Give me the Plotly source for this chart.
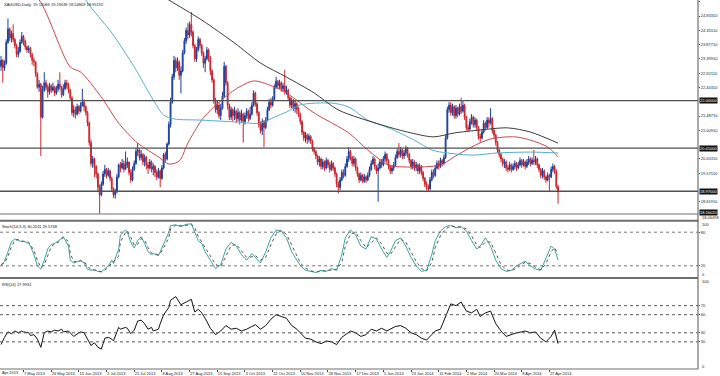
import datetime as dt
import plotly.graph_objects as go

# ---------------- data ----------------
title_text = "XAGUSD,Daily  19.12066 19.19039 18.54809 18.95192"
first_open = 23.15
close = [
 23.35, 23.10, 23.25, 23.95, 24.40, 24.10, 24.25, 24.05, 23.85, 23.55,
 23.65, 23.95, 24.15, 24.00, 23.80, 23.70, 23.75, 23.55, 23.35, 23.30,
 22.90, 22.45, 22.55, 21.45, 22.35, 22.60, 22.45, 22.30, 22.50, 22.35,
 22.45, 22.25, 22.40, 22.55, 22.45, 22.20, 22.40, 22.60, 22.50, 22.35,
 22.10, 21.60, 21.70, 21.55, 21.80, 21.65, 21.85, 21.95, 21.80, 21.60,
 21.25, 20.60, 19.90, 20.05, 19.80, 19.55, 19.10, 18.85, 19.20, 19.55,
 19.70, 19.50, 19.65, 19.40, 19.05, 18.85, 18.95, 19.45, 19.85, 19.75,
 19.90, 19.70, 19.85, 19.95, 19.60, 19.35, 19.70, 19.90, 20.30, 20.35,
 20.10, 20.20, 19.95, 20.10, 19.85, 19.75, 19.95, 19.70, 19.80, 19.60,
 19.45, 19.65, 19.40, 19.75, 20.20, 20.05, 20.55, 21.20, 21.95, 22.80,
 23.35, 23.10, 23.30, 22.85, 23.00, 23.60, 24.00, 24.35, 24.20, 24.55,
 24.30, 23.85, 23.40, 23.70, 24.05, 23.85, 23.60, 23.25, 23.40, 23.70,
 23.45, 23.00, 22.70, 22.00, 21.70, 21.85, 21.50, 21.75, 22.15, 23.15,
 22.60, 21.85, 21.45, 21.70, 21.50, 21.65, 21.40, 21.60, 21.35, 21.55,
 21.30, 21.50, 21.65, 21.40, 21.55, 21.85, 22.25, 21.90, 21.60, 21.20,
 21.00, 21.30, 21.10, 21.35, 21.70, 21.95, 21.85, 22.05, 22.45, 22.65,
 22.50, 22.60, 22.40, 22.50, 22.30, 22.35, 22.10, 21.85, 22.00, 21.75,
 21.90, 21.70, 21.55, 21.30, 20.95, 20.75, 20.85, 20.70, 20.80, 20.65,
 20.40, 20.30, 20.15, 19.95, 20.05, 19.80, 19.95, 19.75, 20.00, 19.85,
 19.70, 19.90, 19.75, 19.55, 19.20, 19.10, 19.35, 19.60, 19.50, 19.80,
 20.05, 20.30, 20.10, 19.90, 20.05, 19.75, 19.55, 19.35, 19.50, 19.30,
 19.45, 19.35, 19.50, 19.70, 19.90, 20.05, 19.80, 19.65, 19.75, 19.95,
 19.85, 20.05, 20.20, 20.00, 19.80, 19.65, 19.75, 19.85, 20.10, 20.30,
 20.20, 20.35, 20.15, 20.25, 20.40, 20.20, 20.00, 19.80, 19.95, 19.75,
 19.85, 19.65, 19.80, 19.60, 19.40, 19.20, 19.10, 19.05, 19.35, 19.60,
 19.50, 19.75, 19.90, 19.80, 20.00, 19.90, 20.10, 20.75, 21.70, 21.85,
 21.60, 21.80, 21.50, 21.75, 21.55, 21.80, 21.65, 21.85, 21.45, 21.10,
 21.05, 21.30, 21.45, 21.20, 21.35, 21.10, 20.80, 20.75, 20.95, 21.25,
 21.10, 21.35, 21.25, 21.40, 21.00, 20.85, 20.60, 20.35, 20.20, 20.05,
 19.90, 19.95, 19.75, 19.70, 19.85, 19.70, 19.80, 19.90, 19.75, 19.85,
 20.00, 19.85, 19.95, 19.80, 19.95, 20.05, 19.90, 20.00, 19.95, 20.05,
 19.85, 19.70, 19.50, 19.65, 19.45, 19.35, 19.50, 19.45, 19.70, 19.80,
 19.65, 19.12, 18.95]
high = [
 23.5, 23.4, 23.35, 24.05, 24.75, 24.45, 24.35, 24.55, 24.1, 23.9,
 23.8, 24.05, 24.3, 24.2, 24.05, 23.85, 23.85, 23.8, 23.6, 23.45,
 23.3, 22.95, 22.7, 22.6, 22.5, 22.95, 22.7, 22.55, 22.6, 22.55,
 22.6, 22.5, 22.5, 22.7, 22.95, 22.5, 22.55, 22.7, 22.7, 22.6,
 22.4, 22.15, 21.85, 21.8, 21.9, 21.85, 21.95, 22.4, 22.05, 21.85,
 21.65, 21.3, 20.7, 20.15, 20.1, 19.85, 19.6, 19.2, 19.3, 19.65,
 19.85, 19.75, 19.75, 19.7, 19.45, 19.1, 19.05, 19.55, 19.9, 19.95,
 20.05, 20.0, 20.3, 20.1, 19.95, 19.7, 19.8, 20.0, 20.4, 20.58,
 20.4, 20.35, 20.25, 20.2, 20.15, 19.95, 20.05, 20.0, 19.9, 19.85,
 19.7, 19.75, 19.7, 19.85, 20.25, 20.3, 20.6, 21.3, 22.1, 22.9,
 23.5, 23.45, 23.45, 23.35, 23.15, 23.7, 24.1, 24.45, 24.6, 24.65,
 24.97, 24.35, 23.9, 23.8, 24.15, 24.1, 23.9, 23.65, 23.5, 23.8,
 23.75, 23.5, 23.05, 22.75, 22.1, 22.0, 21.95, 21.9, 22.3, 23.3,
 23.2, 22.65, 21.9, 21.8, 21.75, 21.8, 21.7, 21.75, 21.65, 21.7,
 21.6, 21.6, 21.75, 21.7, 21.8, 21.95, 22.35, 22.3, 21.95, 21.65,
 21.3, 21.4, 21.35, 21.45, 21.8, 22.05, 22.1, 22.15, 22.55, 22.8,
 22.7, 22.7, 22.65, 22.6, 23.03, 22.5, 22.4, 22.15, 22.1, 22.05,
 22.0, 21.95, 21.8, 21.6, 21.35, 21.0, 20.95, 20.9, 20.9, 20.85,
 20.7, 20.45, 20.35, 20.2, 20.15, 20.1, 20.05, 20.0, 20.1, 20.05,
 19.95, 20.0, 19.95, 19.8, 19.6, 19.3, 19.45, 19.7, 19.7, 19.9,
 20.15, 20.45, 20.35, 20.15, 20.15, 20.1, 19.8, 19.6, 19.6, 19.55,
 19.55, 19.5, 19.6, 19.8, 20.0, 20.15, 20.1, 19.85, 19.9, 20.05,
 20.05, 20.15, 20.3, 20.25, 20.05, 19.85, 19.85, 19.95, 20.2, 20.4,
 20.58, 20.45, 20.4, 20.35, 20.5, 20.45, 20.25, 20.05, 20.05, 20.0,
 19.95, 19.9, 19.9, 19.85, 19.65, 19.45, 19.3, 19.2, 19.45, 19.7,
 19.7, 19.85, 20.0, 20.0, 20.1, 20.05, 20.2, 20.85, 21.8, 21.95,
 21.95, 21.9, 21.85, 21.85, 21.8, 21.9, 22.1, 22.0, 21.9, 21.5,
 21.2, 21.4, 21.55, 21.5, 21.45, 21.4, 21.15, 20.9, 21.05, 21.35,
 21.3, 21.45, 21.45, 21.75, 21.45, 21.1, 20.9, 20.65, 20.4, 20.25,
 20.1, 20.05, 20.0, 19.85, 19.95, 19.9, 19.9, 20.0, 19.95, 19.95,
 20.1, 20.05, 20.05, 20.0, 20.05, 20.15, 20.1, 20.1, 20.35, 20.15,
 20.1, 19.9, 19.75, 19.75, 19.7, 19.5, 19.6, 19.55, 19.8, 19.9,
 19.85, 19.7, 19.19]
low = [
 23.0, 22.6, 23.0, 23.2, 23.9, 24.0, 23.95, 23.95, 23.75, 23.45,
 23.45, 23.6, 23.9, 23.85, 23.7, 23.6, 23.6, 23.45, 23.2, 23.15,
 22.8, 22.4, 22.3, 20.15, 21.4, 22.3, 22.35, 22.1, 22.2, 22.25,
 22.3, 22.15, 22.2, 22.3, 22.35, 22.1, 22.15, 22.35, 22.4, 22.25,
 22.0, 21.5, 21.45, 21.4, 21.5, 21.55, 21.6, 21.8, 21.65, 21.5,
 21.15, 20.5, 19.8, 19.75, 19.45, 19.4, 18.95, 18.22, 18.8, 19.15,
 19.45, 19.4, 19.45, 19.3, 18.95, 18.75, 18.72, 18.9, 19.4, 19.6,
 19.7, 19.6, 19.7, 19.75, 19.5, 19.25, 19.3, 19.65, 19.85, 20.15,
 20.0, 20.0, 19.85, 19.8, 19.7, 19.55, 19.7, 19.6, 19.5, 19.45,
 19.35, 19.4, 19.1, 19.35, 19.7, 19.95, 20.0, 20.5, 21.1, 21.9,
 22.7, 22.95, 23.0, 22.7, 22.25, 22.95, 23.55, 23.9, 24.05, 24.1,
 24.15, 23.75, 23.3, 23.3, 23.65, 23.75, 23.5, 23.1, 22.95, 23.35,
 23.3, 22.85, 22.6, 21.9, 21.6, 21.55, 21.4, 21.35, 21.7, 22.1,
 22.5, 21.7, 21.35, 21.35, 21.3, 21.35, 21.25, 21.3, 21.2, 21.3,
 20.6, 21.2, 21.4, 21.3, 21.35, 21.5, 21.8, 21.8, 21.5, 21.1,
 20.9, 20.85, 20.45, 21.05, 21.3, 21.65, 21.75, 21.8, 22.0, 22.4,
 22.4, 22.4, 22.3, 22.3, 22.2, 22.2, 22.0, 21.75, 21.75, 21.65,
 21.6, 21.55, 21.45, 21.2, 20.85, 20.65, 20.6, 20.55, 20.6, 20.55,
 20.3, 20.2, 20.05, 19.85, 19.8, 19.7, 19.7, 19.65, 19.7, 19.75,
 19.6, 19.65, 19.65, 19.45, 19.1, 18.9, 19.0, 19.3, 19.4, 19.45,
 19.75, 19.95, 20.0, 19.8, 19.8, 19.65, 19.45, 19.25, 19.3, 19.25,
 19.25, 19.25, 19.3, 19.45, 19.65, 19.85, 19.7, 19.55, 18.62, 19.7,
 19.75, 19.8, 19.95, 19.9, 19.7, 19.55, 19.55, 19.65, 19.8, 20.05,
 20.1, 20.1, 20.05, 20.05, 20.15, 20.1, 19.9, 19.7, 19.7, 19.65,
 19.65, 19.55, 19.55, 19.5, 19.3, 19.1, 19.0, 18.95, 19.0, 19.3,
 19.4, 19.45, 19.7, 19.7, 19.75, 19.8, 19.85, 20.05, 20.7, 21.6,
 21.5, 21.5, 21.4, 21.4, 21.45, 21.5, 21.55, 21.6, 21.35, 21.0,
 20.95, 21.0, 21.2, 21.1, 21.1, 21.0, 20.7, 20.6, 20.7, 20.9,
 21.0, 21.05, 21.1, 21.2, 20.9, 20.75, 20.5, 20.25, 20.1, 19.95,
 19.8, 19.75, 19.65, 19.6, 19.65, 19.6, 19.65, 19.7, 19.65, 19.7,
 19.8, 19.75, 19.8, 19.7, 19.75, 19.85, 19.8, 19.85, 19.85, 19.85,
 19.75, 19.6, 19.4, 19.4, 19.35, 19.25, 19.3, 18.95, 19.4, 19.6,
 19.55, 19.05, 18.55]

# moving averages (bar index, price)
ma_red_bar = [10, 22, 40, 46, 58, 68, 79, 91, 97, 103, 108, 116, 123, 135, 146, 158, 165,
              181, 201, 212, 224, 235, 254, 262, 272, 283, 297, 306, 316, 322]
ma_red_val = [25.9, 25.37, 23.13, 22.96, 22.12, 21.25, 20.58, 20.12, 19.88, 19.98, 20.58,
              21.35, 21.79, 22.36, 22.66, 22.46, 22.26, 21.59, 20.92, 20.35, 19.85, 19.78,
              19.85, 20.12, 20.45, 20.72, 20.79, 20.68, 20.45, 20.12]
ma_teal_bar = [40, 49, 64, 77, 87, 94, 100, 116, 135, 150, 158, 165, 173, 191, 201, 212,
               224, 239, 249, 258, 273, 287, 306, 322]
ma_teal_val = [26.5, 25.37, 24.27, 23.13, 22.12, 21.52, 21.39, 21.35, 21.29, 21.25, 21.45,
               21.62, 21.86, 21.92, 21.79, 21.35, 21.09, 20.68, 20.35, 20.25, 20.18, 20.25,
               20.28, 20.25]
ma_black_bar = [85, 97, 116, 135, 150, 165, 181, 195, 220, 235, 250, 262, 277, 293, 306, 322]
ma_black_val = [25.8, 25.37, 24.70, 23.93, 23.26, 22.79, 22.26, 21.69, 21.19, 20.95, 20.79,
                20.92, 21.02, 21.09, 20.95, 20.58]

level_lines = [22.0, 20.41, 18.97]
level_labels = ["22.00000", "20.41000", "18.97000"]

price_ticks = [25.3111, 24.8331, 24.3551, 23.8771, 23.3991, 22.9211, 22.4431,
               21.4871, 21.0091, 20.0531, 19.5751, 18.6191]

stoch_bar = [0, 2, 4, 6, 8, 10, 12, 13, 16, 17, 19, 21, 23, 25, 27, 29, 31, 33, 35, 36, 39,
             40, 42, 45, 46, 48, 50, 52, 54, 56, 58, 60, 62, 64, 65, 68, 69, 72, 73, 75, 77,
             79, 81, 83, 85, 87, 88, 91, 92, 94, 97, 98, 101, 104, 107, 110, 112, 114, 116,
             118, 121, 124, 127, 130, 133, 136, 139, 142, 145, 147, 150, 153, 156, 159, 162,
             165, 168, 171, 173, 176, 179, 182, 185, 188, 191, 194, 197, 199, 202, 205, 208,
             211, 214, 217, 220, 223, 225, 228, 231, 234, 237, 240, 243, 246, 249, 251, 254,
             257, 260, 263, 266, 269, 272, 275, 277, 280, 283, 286, 289, 292, 295, 298, 301,
             303, 306, 309, 312, 315, 318, 320, 322]
stoch_val = [22, 28, 45, 63, 68, 66, 63, 64, 60, 55, 40, 20, 14, 30, 50, 58, 60, 64, 70, 72,
             55, 30, 25, 28, 30, 25, 14, 12, 13, 10, 9, 15, 20, 30, 24, 50, 75, 84, 80, 62,
             52, 65, 72, 60, 45, 40, 42, 38, 45, 60, 80, 92, 93, 90, 94, 95, 80, 65, 60, 45,
             30, 15, 22, 50, 62, 55, 40, 30, 42, 35, 25, 45, 70, 84, 82, 70, 45, 30, 20, 12,
             10, 8, 12, 10, 15, 12, 40, 70, 84, 75, 55, 50, 72, 68, 50, 35, 45, 65, 70, 55,
             35, 20, 10, 12, 40, 65, 82, 90, 92, 88, 90, 82, 65, 50, 55, 70, 55, 30, 15, 10,
             12, 20, 25, 28, 20, 14, 12, 35, 55, 50, 30]
rsi_bar = stoch_bar[:]
rsi_val = [27, 35, 41, 39, 42, 40, 42, 41, 40, 37, 38, 33, 24, 40, 42, 41, 43, 42, 44, 41,
           42, 40, 36, 40, 41, 40, 33, 26, 29, 24, 22, 34, 35, 33, 31, 46, 44, 46, 45, 39,
           43, 53, 54, 50, 44, 46, 42, 44, 50, 60, 68, 76, 80, 71, 74, 77, 63, 66, 62, 56,
           45, 38, 42, 48, 44, 45, 42, 44, 47, 49, 44, 48, 55, 60, 58, 56, 48, 44, 40, 34,
           33, 30, 28, 31, 30, 27, 35, 38, 42, 40, 36, 38, 44, 42, 45, 42, 44, 47, 48, 45,
           40, 38, 34, 32, 38, 42, 44, 58, 72, 70, 74, 64, 62, 66, 58, 62, 64, 50, 42, 36,
           38, 40, 41, 42, 40, 41, 34, 30, 36, 43, 28]
stoch_levels = [80, 20]
rsi_levels = [70, 60, 40, 30]

date_labels = ["18 Apr 2013", "7 May 2013", "26 May 2013", "13 Jun 2013", "2 Jul 2013",
               "21 Jul 2013", "8 Aug 2013", "27 Aug 2013", "15 Sep 2013", "3 Oct 2013",
               "22 Oct 2013", "10 Nov 2013", "28 Nov 2013", "17 Dec 2013", "5 Jan 2014",
               "23 Jan 2014", "11 Feb 2014", "2 Mar 2014", "20 Mar 2014", "8 Apr 2014",
               "27 Apr 2014"]
first_bar_date = dt.date(2013, 4, 22)

# ---------------- derived structure ----------------
n = len(close)
assert len(high) == n and len(low) == n
bars = list(range(n))
opens = [first_open] + close[:-1]
high = [max(h, o, c) for h, o, c in zip(high, opens, close)]
low = [min(l, o, c) for l, o, c in zip(low, opens, close)]

def bar_index(d):
    # bars exist Sun-Fri (no Saturday bars)
    step = 1 if d >= first_bar_date else -1
    cur, k = first_bar_date, 0
    while cur != d:
        cur += dt.timedelta(days=step)
        if cur.weekday() != 5:
            k += step
    return k

def parse(lbl):
    return dt.datetime.strptime(lbl, "%d %b %Y").date()

label_pos = [bar_index(parse(s)) for s in date_labels]
signal = [stoch_val[0]] + [(a + b) / 2 for a, b in zip(stoch_val[:-1], stoch_val[1:])]

# ---------------- figure ----------------
BLUE = "#1b3f9f"
RED = "#c9262e"
FONT = "Liberation Sans"
FS = 4
H = 369.0

def py(pix):
    return 1 - pix / H

fig = go.Figure()
fig.add_trace(go.Candlestick(
    x=bars, open=opens, high=high, low=low, close=close,
    increasing=dict(line=dict(color=BLUE, width=1), fillcolor=BLUE),
    decreasing=dict(line=dict(color=RED, width=1), fillcolor=RED),
    whiskerwidth=0, showlegend=False, hoverinfo="skip", xaxis="x", yaxis="y"))
for xs, ys, col in [(ma_red_bar, ma_red_val, "#c8474a"),
                    (ma_teal_bar, ma_teal_val, "#55b0c8"),
                    (ma_black_bar, ma_black_val, "#3c3c3c")]:
    fig.add_trace(go.Scatter(x=xs, y=ys, mode="lines", line=dict(color=col, width=1, shape="spline", smoothing=0.8),
                             showlegend=False, hoverinfo="skip", xaxis="x", yaxis="y"))

fig.add_trace(go.Scatter(x=stoch_bar, y=stoch_val, mode="lines",
                         line=dict(color="#3aa5a0", width=1), showlegend=False,
                         hoverinfo="skip", xaxis="x2", yaxis="y2"))
fig.add_trace(go.Scatter(x=stoch_bar, y=signal, mode="lines",
                         line=dict(color="#555555", width=1, dash="dot"), showlegend=False,
                         hoverinfo="skip", xaxis="x2", yaxis="y2"))
fig.add_trace(go.Scatter(x=rsi_bar, y=rsi_val, mode="lines",
                         line=dict(color="#111111", width=1), showlegend=False,
                         hoverinfo="skip", xaxis="x3", yaxis="y3"))

xr = [-0.6, 402.9]
tickfont = dict(family=FONT, size=FS, color="#222")
fig.update_layout(
    width=720, height=376, margin=dict(l=0, r=22, t=0, b=7, autoexpand=False),
    paper_bgcolor="white", plot_bgcolor="white",
    font=dict(family=FONT, size=FS, color="#222"),
    xaxis=dict(domain=[0, 1], range=xr, anchor="y", showticklabels=False, showgrid=False,
               zeroline=False, rangeslider=dict(visible=False), automargin=False),
    xaxis2=dict(domain=[0, 1], range=xr, anchor="y2", matches="x", showticklabels=False,
                showgrid=False, zeroline=False, automargin=False),
    xaxis3=dict(domain=[0, 1], range=xr, anchor="y3", matches="x", showgrid=False, zeroline=False,
                tickmode="array", tickvals=label_pos[1:], ticktext=date_labels[1:],
                ticks="outside", ticklen=2, tickcolor="#444", tickfont=tickfont,
                tickangle=0, ticklabelposition="outside right", automargin=False),
    yaxis=dict(domain=[py(214), 1], range=[18.208, 25.370], side="right", showgrid=False,
               zeroline=False, tickmode="array", tickvals=price_ticks,
               ticktext=[f"{v:.5f}" for v in price_ticks], ticks="outside", ticklen=1,
               tickcolor="#444", tickfont=tickfont, automargin=False),
    yaxis2=dict(domain=[py(277), py(221)], range=[0, 100], side="right", showgrid=False,
                zeroline=False, tickmode="array", tickvals=stoch_levels,
                ticktext=[str(v) for v in stoch_levels], ticks="outside", ticklen=1,
                tickcolor="#444", tickfont=tickfont, automargin=False),
    yaxis3=dict(domain=[0, py(278.5)], range=[0, 100], side="right", showgrid=False,
                zeroline=False, tickmode="array", tickvals=rsi_levels,
                ticktext=[str(v) for v in rsi_levels], ticks="outside", ticklen=1,
                tickcolor="#444", tickfont=tickfont, automargin=False),
)

shapes = []
for lv in level_lines:
    shapes.append(dict(type="line", xref="paper", yref="y", x0=0, x1=1, y0=lv, y1=lv,
                       line=dict(color="#505050", width=1.3)))
for lv in stoch_levels:
    shapes.append(dict(type="line", xref="paper", yref="y2", x0=0, x1=1, y0=lv, y1=lv,
                       line=dict(color="#777", width=1, dash="dot")))
for lv in rsi_levels:
    shapes.append(dict(type="line", xref="paper", yref="y3", x0=0, x1=1, y0=lv, y1=lv,
                       line=dict(color="#555", width=1, dash="dot")))
for pix, w in [(214, 1), (220.7, 2), (278, 2), (369, 1)]:
    shapes.append(dict(type="line", xref="paper", yref="paper", x0=0, x1=1, y0=py(pix), y1=py(pix),
                       line=dict(color="#6e6e6e", width=w)))
shapes.append(dict(type="line", xref="paper", yref="paper", x0=1, x1=1, y0=0, y1=1,
                   line=dict(color="#555", width=1)))
fig.update_layout(shapes=shapes)

ann = []
ann.append(dict(xref="paper", yref="paper", x=0.003, y=1, xanchor="left", yanchor="top",
                text=title_text, showarrow=False, font=dict(family=FONT, size=FS, color="#111")))
ann.append(dict(xref="paper", yref="paper", x=0.0, y=py(221.5), xanchor="left", yanchor="top",
                text="Stoch(14,3,3) 30.2011 29.5748", showarrow=False,
                font=dict(family=FONT, size=FS, color="#111")))
ann.append(dict(xref="paper", yref="paper", x=0.0, y=py(279.5), xanchor="left", yanchor="top",
                text="RSI(14) 27.9931", showarrow=False,
                font=dict(family=FONT, size=FS, color="#111")))
for lv, txt in zip(level_lines, level_labels):
    ann.append(dict(xref="paper", yref="y", x=1.0015, y=lv, xanchor="left", yanchor="middle",
                    text=txt, showarrow=False, bgcolor="#111", borderpad=0,
                    font=dict(family=FONT, size=FS, color="white")))
ann.append(dict(xref="paper", yref="paper", x=1.0015, y=py(212.5), xanchor="left", yanchor="middle",
                text="18.16020", showarrow=False, bgcolor="#111", borderpad=0,
                font=dict(family=FONT, size=FS, color="white")))
ann.append(dict(xref="paper", yref="paper", x=1.003, y=py(217.3), xanchor="left", yanchor="middle",
                text="18.06498", showarrow=False, font=dict(family=FONT, size=FS, color="#222")))
for txt, pix in [("100", 224), ("0", 274), ("100", 281.5), ("0", 366.5)]:
    ann.append(dict(xref="paper", yref="paper", x=1.003, y=py(pix), xanchor="left", yanchor="middle",
                    text=txt, showarrow=False, font=dict(family=FONT, size=FS, color="#222")))
# first date label is cut by the left edge in the reference
ann.append(dict(xref="paper", yref="paper", x=0.0, y=py(372.5), xanchor="left", yanchor="middle",
                text=date_labels[0].split(" ", 1)[1], showarrow=False,
                font=dict(family=FONT, size=FS, color="#222")))
fig.update_layout(annotations=ann)

# page body margin removed so the figure sits at the window's top-left corner
fig.write_html("out.html", config={"displayModeBar": False},
               post_script="document.body.style.margin='0';document.body.style.padding='0';")
